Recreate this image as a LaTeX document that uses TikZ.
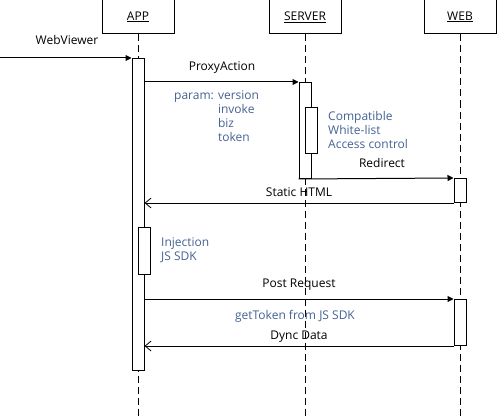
\documentclass[tikz,border=0pt]{standalone}
\usepackage{fontspec}
\setmainfont{Open Sans}
\usepackage{tikz}
\usetikzlibrary{arrows.meta,positioning}
\definecolor{notecol}{RGB}{68,98,146}

\begin{document}
\begin{tikzpicture}[
  x=1pt, y=-1pt,
  font=\fontsize{12pt}{14pt}\selectfont,
  head/.style={
    draw, line width=1pt, fill=white,
    minimum width=72pt, minimum height=34pt, inner sep=0pt
  },
  bar/.style={
    draw, line width=1pt, fill=white, anchor=north,
    minimum width=12pt, inner sep=0pt
  },
  life/.style={line width=1pt, dash pattern=on 7pt off 4pt},
  call/.style={line width=1pt, -{Triangle[length=6pt,width=6pt]}},
  back/.style={line width=1pt, -{Straight Barb[length=6pt,width=10pt,line width=0.8pt]}},
  lbl/.style={anchor=base, inner sep=0pt},
  note/.style={anchor=base west, inner sep=0pt, align=left, text=notecol},
]
\useasboundingbox (0,0) rectangle (497,417);

% lifeline heads
\node[head] (app) at (138,17)  {\underline{APP}};
\node[head] (srv) at (305,17)  {\underline{SERVER}};
\node[head] (web) at (460,17)  {\underline{WEB}};

\coordinate (append) at (138,417);
\coordinate (srvend) at (305,417);
\coordinate (webend) at (460,417);

\draw[life] (app) -- (append);
\draw[life] (srv) -- (srvend);
\draw[life] (web) -- (webend);

% activation bars
\node[bar, minimum height=312pt] (appbar)  at (138,58)  {};
\node[bar, minimum height=96pt]  (srvbar)  at (305,82)  {};
\node[bar, minimum height=46pt]  (srvsub)  at (311,107) {};
\node[bar, minimum height=24pt]  (webbar1) at (460,178) {};
\node[bar, minimum height=47pt]  (appsub)  at (144,227) {};
\node[bar, minimum height=46pt]  (webbar2) at (460,299) {};

\coordinate (entry) at (0,58);

% messages
\draw[call] (entry) -- (appbar.north west);
\draw[call] (appbar.east |- srvbar.north) -- (srvbar.north west);
\draw[call] (srvbar.south west) -- (webbar1.north west);
\draw[back] (webbar1.south west) -- (appbar.east |- webbar1.south);
\draw[call] (appbar.east |- webbar2.north) -- (webbar2.north west);
\draw[back] (webbar2.south west) -- (appbar.east |- webbar2.south);

% labels
\node[lbl] (lweb)    at (67,45)   {WebViewer};
\node[lbl] (lproxy)  at (222,71)  {ProxyAction};
\node[lbl] (lredir)  at (382,167) {Redirect};
\node[lbl] (lstatic) at (299,196) {Static HTML};
\node[lbl] (lpost)   at (299,287) {Post Request};
\node[lbl] (ldync)   at (299,339) {Dync Data};

% notes (anchored on the last line)
\node[note] (nparam)  at (174,141) {param: version\\\hphantom{param: }invoke\\\hphantom{param: }biz\\\hphantom{param: }token};
\node[note] (ncheck)  at (328,148) {Compatible\\White-list\\Access control};
\node[note] (ninject) at (161,260) {Injection\\JS SDK};
\node[lbl, text=notecol] (ntoken) at (295,319) {getToken from JS SDK};

\end{tikzpicture}
\end{document}
